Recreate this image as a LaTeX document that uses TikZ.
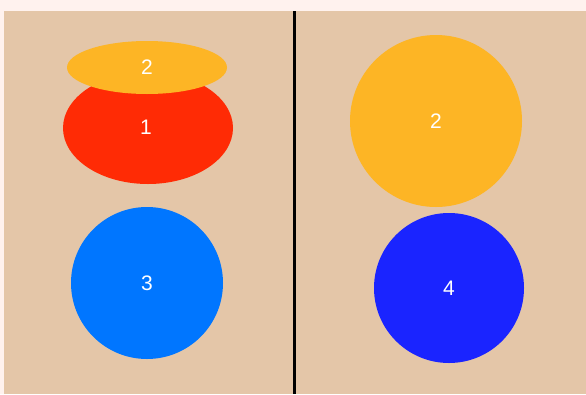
\documentclass[tikz,border=0pt]{standalone}
\usepackage{fontspec}
\setmainfont{Liberation Sans}
\usetikzlibrary{shapes.geometric}
\definecolor{marg}{HTML}{FFF2EE}
\definecolor{board}{HTML}{E4C6A8}
\definecolor{redc}{HTML}{FF2B05}
\definecolor{yelc}{HTML}{FDB525}
\definecolor{bluec}{HTML}{0076FF}
\definecolor{dblue}{HTML}{1A24FF}
\begin{document}
\begin{tikzpicture}[x=1pt,y=-1pt,
  blob/.style={draw=none,inner sep=0pt,text=white,font=\fontsize{21}{25}\selectfont},
]
\useasboundingbox (0,0) rectangle (586,394);
\fill[marg] (0,0) rectangle (586,394);
\fill[board] (4,11) rectangle (586,394);
\draw[black,line width=3] (294.5,11) -- (294.5,394);
% left panel
\node[blob,fill=redc,ellipse,minimum width=170,minimum height=112] (one) at (148,128) {};
\node[blob,text=white] (onelabel) at (146,127) {1};
\node[blob,fill=yelc,ellipse,minimum width=160,minimum height=53] (two) at (147,67.5) {2};
\node[blob,fill=bluec,circle,minimum size=152] (three) at (147,283) {3};
% right panel
\node[blob,fill=yelc,circle,minimum size=172] (twob) at (436,121) {2};
\node[blob,fill=dblue,circle,minimum size=150] (four) at (449,288) {4};
\end{tikzpicture}
\end{document}
